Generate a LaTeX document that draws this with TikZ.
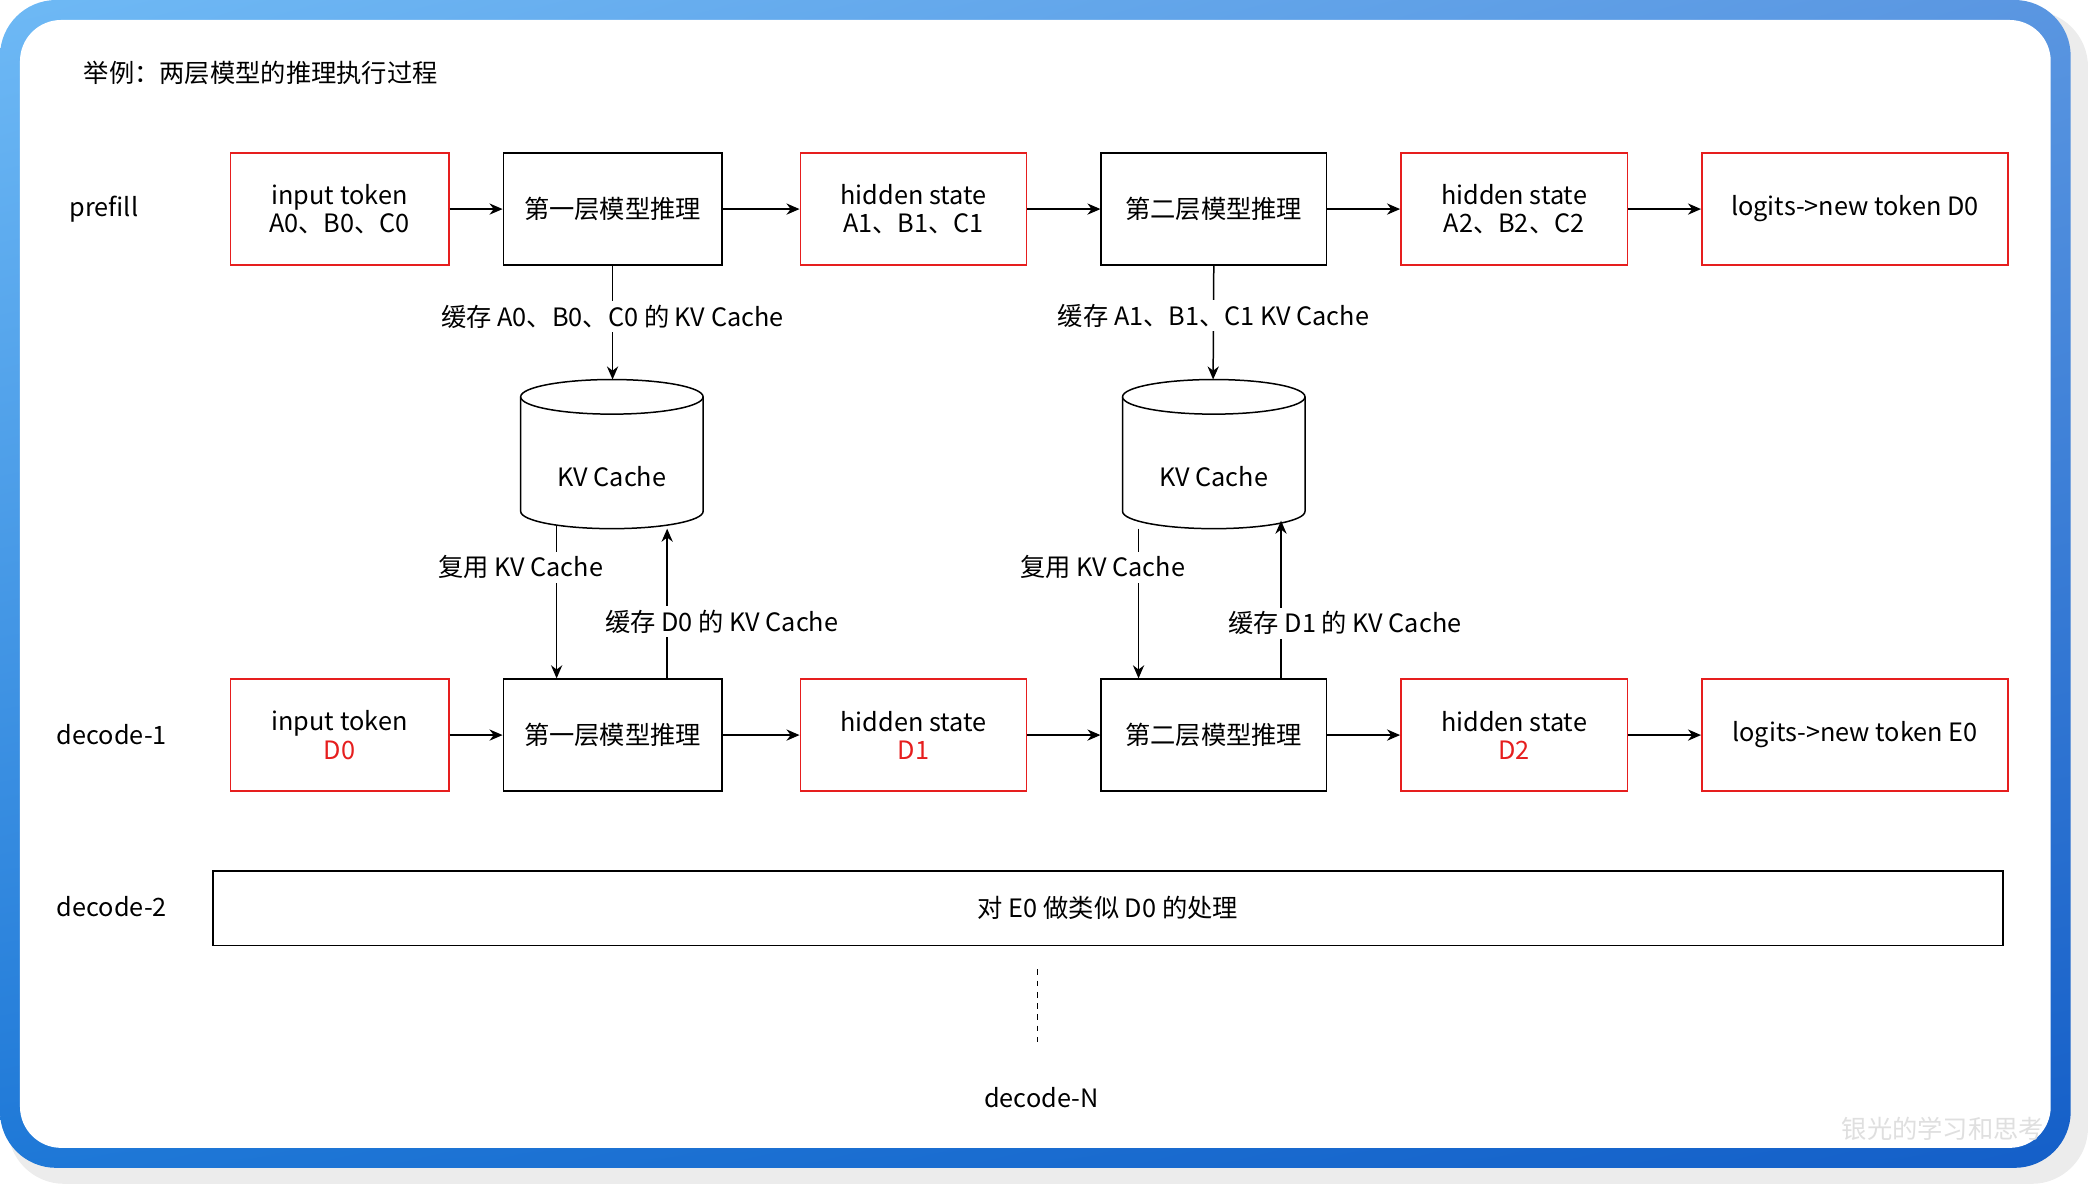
\documentclass[tikz,border=0pt]{standalone}
\usepackage{fontspec}
\setmainfont{Noto Sans CJK SC}
\usetikzlibrary{arrows.meta,shadings}
\definecolor{rd}{RGB}{230,30,30}
\definecolor{bl1}{RGB}{110,185,245}
\definecolor{bl2}{RGB}{90,150,225}
\definecolor{bl3}{RGB}{30,120,215}
\definecolor{bl4}{RGB}{20,95,200}
\begin{document}
\begin{tikzpicture}[x=0.025cm,y=-0.025cm,
  every node/.style={font=\fontsize{13.5}{15}\selectfont},
  box/.style={draw,line width=0.8pt,minimum height=2.1cm,align=center,inner sep=0pt},
  rbox/.style={box,draw=rd},
  arr/.style={-{Stealth[length=7pt,width=6pt]},line width=0.8pt},
  lbl/.style={fill=white,inner sep=2pt}]
\useasboundingbox (0,0) rectangle (1568,889);
\fill[gray!15,rounded corners=30] (6,8) rectangle (1568,889);
\shade[rounded corners=30,upper left=bl1,upper right=bl2,lower left=bl3,lower right=bl4] (0,0) rectangle (1555,877);
\fill[white,rounded corners=22] (15,15) rectangle (1540,862);
\node[anchor=west] (title) at (58,55) {举例：两层模型的推理执行过程};
% row 1
\node[rbox,minimum width=4.1cm] (i1) at (255,157) {input token\\A0、B0、C0};
\node[box,minimum width=4.1cm] (l11) at (460,157) {第一层模型推理};
\node[rbox,minimum width=4.25cm] (h11) at (686,157) {hidden state\\A1、B1、C1};
\node[box,minimum width=4.225cm] (l12) at (911.5,157) {第二层模型推理};
\node[rbox,minimum width=4.25cm] (h12) at (1137,157) {hidden state\\A2、B2、C2};
\node[rbox,minimum width=5.75cm] (o1) at (1393,157) {logits->new token D0};
% row 2
\node[rbox,minimum width=4.1cm] (i2) at (255,552) {input token\\\textcolor{rd}{D0}};
\node[box,minimum width=4.1cm] (l21) at (460,552) {第一层模型推理};
\node[rbox,minimum width=4.25cm] (h21) at (686,552) {hidden state\\\textcolor{rd}{D1}};
\node[box,minimum width=4.225cm] (l22) at (911.5,552) {第二层模型推理};
\node[rbox,minimum width=4.25cm] (h22) at (1137,552) {hidden state\\\textcolor{rd}{D2}};
\node[rbox,minimum width=5.75cm] (o2) at (1393,552) {logits->new token E0};
\node (pf) at (78,157) {prefill};
\node (d1) at (84,552) {decode-1};
\node (d2) at (84,681) {decode-2};
\node[box,minimum width=33.6cm,minimum height=1.4cm] (dbox) at (832,682) {对 E0 做类似 D0 的处理};
\node (dn) at (782,824) {decode-N};
\coordinate (dt) at (779,728); \coordinate (db) at (779,783);
\draw[dashed,line width=0.6pt] (dt) -- (db);
\foreach \a/\b in {i1/l11,l11/h11,h11/l12,l12/h12,h12/o1,i2/l21,l21/h21,h21/l22,l22/h22,h22/o2}
  \draw[arr] (\a) -- (\b);
% cylinders
\foreach \n/\cx in {c1/459.5,c2/911.5}{
  \draw[line width=0.8pt,fill=white] (\cx-68.5,298) -- (\cx-68.5,384) arc[start angle=180,end angle=0,x radius=68.5,y radius=13] -- (\cx+68.5,298);
  \draw[line width=0.8pt,fill=white] (\cx,298) ellipse[x radius=68.5,y radius=13];
  \node (\n) at (\cx,358) {KV Cache};
}
\coordinate (c1t) at (460,285); \coordinate (c2t) at (911,285);
\draw[arr] (l11.south) -- (c1t) node[lbl,pos=0.45] {缓存 A0、B0、C0 的 KV Cache};
\draw[arr] (l12.south) -- (c2t) node[lbl,pos=0.44] {缓存 A1、B1、C1 KV Cache};
\coordinate (c1a) at (418,395); \coordinate (c1b) at (501,397);
\coordinate (c2a) at (855,397); \coordinate (c2b) at (962,391);
\draw[arr] (c1a) -- (l21.north -| c1a);
\draw[arr] (l21.north -| c1b) -- (c1b);
\draw[arr] (c2a) -- (l22.north -| c2a);
\draw[arr] (l22.north -| c2b) -- (c2b);
\node[lbl] (t1) at (391,426) {复用 KV Cache};
\node[lbl] (t2) at (542,467) {缓存 D0 的 KV Cache};
\node[lbl] (t3) at (828,426) {复用 KV Cache};
\node[lbl] (t4) at (1010,468) {缓存 D1 的 KV Cache};
\node[text=gray!25,anchor=east] (wm) at (1540,848) {银光的学习和思考};
\end{tikzpicture}
\end{document}
